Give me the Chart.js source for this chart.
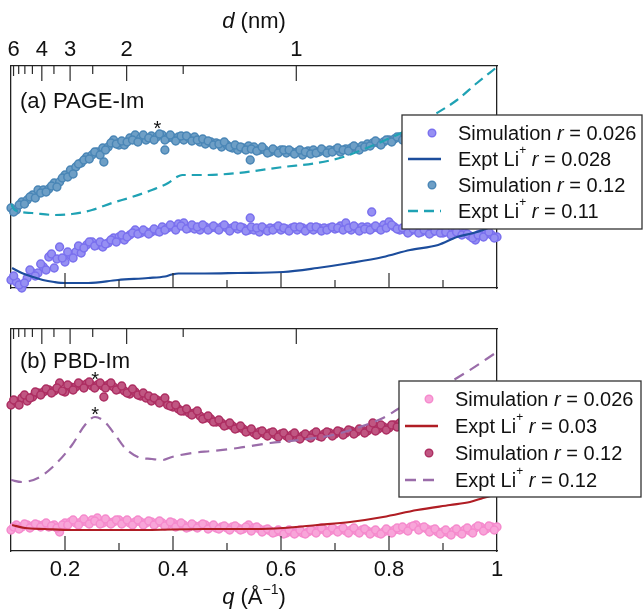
<!DOCTYPE html>
<html><head><meta charset="utf-8">
<script src="https://cdn.jsdelivr.net/npm/chart.js@4.4.1/dist/chart.umd.min.js"></script>
<style>
html,body{margin:0;padding:0;background:#fff;}
#wrap{position:relative;width:643px;height:613px;overflow:hidden;}
canvas{position:absolute;left:0;display:block;}
#c1{top:0}
#c2{top:300px}
</style></head><body>
<div id="wrap"><canvas id="c1" width="643" height="300"></canvas><canvas id="c2" width="643" height="313"></canvas></div>
<script>
// ---------- DATA ----------
// q grid (1/Å) of the simulation curves (two interleaved sample sets)
const qSim = [0.10,0.11,0.12,0.13,0.14,0.15,0.16,0.17,0.18,0.19,
0.20,0.21,0.22,0.23,0.24,0.25,0.26,0.27,0.28,0.29,
0.30,0.31,0.32,0.33,0.34,0.35,0.36,0.37,0.38,0.39,
0.40,0.41,0.42,0.43,0.44,0.45,0.46,0.47,0.48,0.49,
0.50,0.51,0.52,0.53,0.54,0.55,0.56,0.57,0.58,0.59,
0.60,0.61,0.62,0.63,0.64,0.65,0.66,0.67,0.68,0.69,
0.70,0.71,0.72,0.73,0.74,0.75,0.76,0.77,0.78,0.79,
0.80,0.81,0.82,0.83,0.84,0.85,0.86,0.87,0.88,0.89,
0.90,0.91,0.92,0.93,0.94,0.95,0.96,0.97,0.98,0.99,1.00];
const qSimH = [0.105,0.115,0.125,0.135,0.145,0.155,0.165,0.175,0.185,0.195,
0.205,0.215,0.225,0.235,0.245,0.255,0.265,0.275,0.285,0.295,
0.305,0.315,0.325,0.335,0.345,0.355,0.365,0.375,0.385,0.395,
0.405,0.415,0.425,0.435,0.445,0.455,0.465,0.475,0.485,0.495,
0.505,0.515,0.525,0.535,0.545,0.555,0.565,0.575,0.585,0.595,
0.605,0.615,0.625,0.635,0.645,0.655,0.665,0.675,0.685,0.695,
0.705,0.715,0.725,0.735,0.745,0.755,0.765,0.775,0.785,0.795,
0.805,0.815,0.825,0.835,0.845,0.855,0.865,0.875,0.885,0.895,
0.905,0.915,0.925,0.935,0.945,0.955,0.965,0.975,0.985,0.995];

// (a) PAGE-Im, Simulation r = 0.026
const simA026 = [0.8,0.6,0.0,1.0,1.5,1.5,2.1,3.1,2.0,4.1,
2.6,3.3,3.6,3.5,4.3,4.6,4.3,4.1,4.5,5.0,
5.1,4.8,5.3,5.8,5.5,5.6,5.6,5.7,6.1,6.0,
6.1,6.4,6.5,6.0,5.9,5.8,6.1,6.0,6.0,6.1,
6.0,6.0,5.9,6.0,5.8,5.8,5.6,5.9,6.0,6.0,
5.8,5.9,6.0,5.8,6.0,5.9,5.8,6.0,6.0,6.0,
5.9,6.2,6.5,5.8,6.0,6.1,6.1,6.0,6.0,6.3,
6.6,6.1,5.8,5.8,5.7,5.8,5.6,5.7,5.6,5.8,
5.5,5.7,5.4,5.6,5.5,5.2,4.8,5.4,5.5,5.3,5.1];
const simA026h = [1.2,0.3,0.5,1.8,1.2,2.4,1.8,3.4,2.9,3.0,
3.6,3.0,4.2,4.0,4.6,4.2,4.6,4.4,4.8,4.6,
5.3,5.1,5.5,5.4,5.8,5.4,5.9,5.6,5.8,6.3,
5.8,6.2,5.9,6.3,6.1,6.3,5.8,6.2,5.8,6.3,
5.7,6.2,6.1,5.7,6.1,6.0,6.1,5.7,5.8,6.2,
6.0,5.7,6.1,6.1,5.7,6.1,6.1,5.7,5.8,6.1,
6.0,5.8,6.0,6.2,5.7,5.9,5.8,6.2,5.8,6.0,
6.3,5.9,6.0,5.5,5.9,5.5,5.8,5.4,5.7,5.5,
5.6,5.3,5.6,5.3,5.4,5.0,5.3,5.1,5.6,5.0];
const outA026q = [0.543,0.768];
const outA026v = [7.0,7.6];

// (a) PAGE-Im, Simulation r = 0.12
const simA12 = [8.0,7.8,8.6,8.8,9.3,9.8,9.8,9.9,10.5,10.6,
11.3,11.8,12.1,12.5,13.1,13.3,13.6,14.0,14.1,14.8,
14.3,14.3,15.0,15.3,15.0,14.8,15.2,15.1,15.3,15.0,
15.0,15.1,14.8,15.0,15.1,14.6,14.4,14.6,14.5,14.1,
14.3,14.0,13.8,14.0,14.2,14.1,13.8,13.8,13.6,13.7,
13.8,13.5,13.6,13.6,13.3,13.7,13.8,13.6,13.7,13.8,
13.8,13.6,13.9,14.0,14.0,14.2,14.4,14.5,14.5,14.6,
14.8,14.9,15.1,15.2,15.3,15.2,15.4,15.5,15.4,15.6,
15.7,15.6,15.8,15.9,15.8,16.0,16.1,16.0,16.1,16.2,16.2];
const simA12h = [7.6,8.3,8.4,9.1,9.0,9.5,9.6,10.2,10.1,11.0,
11.1,11.4,12.4,12.8,12.9,13.6,13.3,13.8,14.5,14.4,
14.7,14.6,14.8,14.6,15.3,15.0,14.8,15.4,14.8,15.3,
14.7,15.2,15.2,14.7,14.8,14.9,14.7,14.3,14.4,14.6,
14.1,14.3,14.1,13.8,13.9,13.7,14.1,13.5,13.9,13.5,
13.8,13.8,13.4,13.8,13.6,13.4,13.5,13.9,13.5,13.6,
14.0,13.8,13.7,14.2,13.8,14.1,14.2,14.7,14.3,14.8,
14.6,15.1,14.8,15.0,15.3,15.0,15.4,15.2,15.6,15.4,
15.7,15.5,15.9,15.6,16.0,15.8,16.1,15.9,16.2,16.0];
const outA12q = [0.272,0.385,0.543];
const outA12v = [12.6,13.8,12.8];

// (a) Expt Li+ r = 0.028
const qExptA028 = [0.102,0.120,0.141,0.159,0.180,0.200,0.243,0.298,0.354,0.385,0.398,0.410,0.459,0.520,0.604,0.667,0.728,0.789,0.839,0.891,0.926,0.956,0.974,1.000];
const exptA028 = [2.0,1.5,1.1,0.8,0.6,0.5,0.5,0.8,1.0,1.15,1.35,1.45,1.45,1.5,1.6,2.0,2.5,3.1,3.8,4.3,5.1,5.5,5.8,6.4];

// (a) Expt Li+ r = 0.11
const qExptA011 = [0.100,0.107,0.139,0.181,0.213,0.250,0.287,0.324,0.361,0.391,0.407,0.417,0.459,0.520,0.604,0.667,0.715,0.759,0.802,0.826,0.889,0.926,0.963,1.000];
const exptA011 = [8.4,7.8,7.5,7.3,7.4,7.8,8.5,9.1,9.8,10.5,11.1,11.3,11.3,11.5,12.1,12.5,13.1,14.0,15.0,15.6,17.5,18.8,20.5,22.1];

// (b) PBD-Im, Simulation r = 0.026
const simB026 = [2.1,2.6,2.4,2.6,2.5,2.6,2.6,2.4,2.6,1.9,
2.8,2.9,2.8,2.9,2.9,3.1,3.3,2.8,2.9,2.9,
3.1,2.9,2.8,2.9,2.9,2.8,2.9,2.8,2.8,2.6,
2.8,2.6,2.6,2.4,2.5,2.5,2.6,2.4,2.3,2.4,
2.3,2.4,2.3,2.2,2.6,2.3,2.2,2.1,2.0,1.9,
1.9,1.8,1.9,1.9,1.8,1.9,2.0,2.1,2.1,2.0,
2.1,2.1,2.0,2.1,2.0,2.1,2.0,1.9,1.8,1.9,
2.0,2.1,2.1,2.2,2.4,2.6,2.3,2.2,2.1,1.9,
1.9,1.8,2.0,1.9,2.1,2.0,2.3,2.4,2.2,2.4,2.4];
const simB026h = [2.4,2.2,2.7,2.3,2.7,2.4,2.8,2.5,2.3,2.6,
2.6,3.1,2.6,3.2,2.7,3.0,2.7,3.2,2.7,3.1,
2.7,3.1,2.6,3.1,2.6,3.0,2.6,3.0,2.5,2.9,
2.4,2.8,2.3,2.7,2.3,2.7,2.2,2.6,2.2,2.5,
2.1,2.5,2.1,2.4,2.0,2.4,1.9,2.2,1.8,2.1,
1.7,2.1,1.7,2.1,1.7,2.1,1.8,2.3,1.8,2.3,
1.9,2.3,1.8,2.3,1.8,2.2,1.7,2.1,1.7,2.2,
1.8,2.3,2.4,2.0,2.5,2.1,2.4,1.9,2.2,1.7,
2.1,1.6,2.2,1.7,2.3,1.8,2.5,2.0,2.5,2.1];

// (b) PBD-Im, Simulation r = 0.12
const simB12 = [14.6,14.9,15.3,15.0,15.4,15.8,15.9,16.1,16.0,16.8,
15.9,16.4,16.4,16.6,16.7,16.5,16.6,16.5,16.6,16.4,
16.2,16.0,15.7,15.9,15.5,15.3,15.0,15.1,15.0,14.6,
14.4,14.2,14.0,13.8,13.8,13.5,13.3,13.2,12.9,12.8,
12.6,12.5,12.3,12.2,12.0,11.8,11.9,11.7,11.8,11.6,
11.7,11.5,11.6,11.4,11.5,11.5,11.7,11.5,11.7,11.8,
11.7,11.9,11.8,12.0,11.9,12.1,12.0,12.2,12.2,12.4,
12.3,12.6,12.8,13.0,13.1,13.2,13.4,13.5,13.6,13.8,
13.9,14.0,14.1,14.2,14.4,14.5,14.6,14.7,14.8,14.9,15.0];
const simB12h = [15.1,14.6,15.6,15.3,15.9,15.6,16.2,15.8,16.3,16.0,
16.6,16.1,16.8,16.3,16.9,16.3,16.8,16.3,16.8,16.1,
16.5,15.8,16.2,15.6,15.8,15.5,15.3,14.8,15.3,14.5,
14.6,14.0,14.2,13.6,14.0,13.2,13.5,12.9,13.1,12.5,
12.8,12.2,12.5,11.9,12.2,11.6,12.0,11.5,11.9,11.4,
11.8,11.3,11.8,11.2,11.7,11.3,11.9,11.4,11.9,11.5,
12.0,11.6,12.1,11.7,12.2,11.8,12.3,12.0,12.6,12.1,
12.6,12.4,13.0,12.8,13.4,13.0,13.6,13.3,13.9,13.6,
14.1,13.8,14.3,14.0,14.6,14.3,14.8,14.5,15.0,14.7];
const outB12q = [0.272,0.770];
const outB12v = [15.4,12.8];

// (b) Expt Li+ r = 0.03
const qExptB03 = [0.102,0.126,0.163,0.213,0.335,0.459,0.552,0.604,0.667,0.728,0.789,0.852,0.913,0.950,0.974,1.000];
const exptB03 = [2.6,2.3,2.2,2.1,2.1,2.2,2.2,2.3,2.6,2.9,3.4,4.1,4.6,4.9,5.3,5.7];

// (b) Expt Li+ r = 0.12
const qExptB12 = [0.100,0.120,0.150,0.181,0.213,0.237,0.2556,0.274,0.293,0.311,0.335,0.361,0.381,0.398,0.435,0.472,0.520,0.580,0.635,0.696,0.746,0.789,0.820,0.881,0.944,1.000];
const exptB12 = [7.1,6.9,7.3,8.6,10.6,12.6,13.4,12.9,11.6,10.3,9.4,9.2,9.1,9.4,9.8,10.0,10.3,10.8,11.1,11.6,12.4,13.3,14.3,15.9,17.9,19.9];

// axis ticks
const qMajor = [0.2,0.4,0.6,0.8];
const qMinor = [0.3,0.5,0.7,0.9];
const qLabelVals = [0.2,0.4,0.6,0.8,1.0];
const qLabels = ['0.2','0.4','0.6','0.8','1'];
const dMajor = [6,4,3,2,1];       // d (nm), labelled
const dMinor = [5.5,5,4.5,3.5,2.5,1.5];

// peak markers (*)
const starsA = [{q:0.371, v:16.4}];
const starsB = [{q:0.2556, v:17.6},{q:0.2556, v:14.1}];

// ---------- STYLE / HELPERS ----------
const FONT = '"Liberation Sans", Arial, Helvetica, sans-serif';
const C = {
  slate:'#7a70ee', navy:'#1c4d9c', steel:'#4a86b6', teal:'#1fa2b4',
  pink:'#f58acd', red:'#b01d24', maroon:'#ad2e62', purple:'#9a6ca9'
};
const FACE = {
  slate:'#9690f3', steel:'#6e9fc6', pink:'#f8a5d9', maroon:'#c05682'
};
function dToQ(d){ return 2*Math.PI/(10*d); }
function pts(qs, vs){ return qs.map((q,i)=>({x:q, y:vs[i]})); }

function scatterDs(label, data, color, face, order){
  return {label, data, showLine:false, pointRadius:3.9, pointHoverRadius:3.9,
    pointBackgroundColor: face, pointBorderColor: color, pointBorderWidth:1.5,
    legendColor: color, clip:false, order};
}
function lineDs(label, data, color, dash, order){
  return {label, data, showLine:true, pointRadius:0, borderColor:color, borderWidth:2.2,
    borderDash: dash || [], cubicInterpolationMode:'monotone', order};
}

function drawRich(ctx, x, y, parts, size){
  for (const p of parts){
    const fs = p.sup ? Math.round(size*0.62) : size;
    ctx.font = (p.it ? 'italic ' : '') + fs + 'px ' + FONT;
    ctx.fillText(p.t, x, p.sup ? y - size*0.45 : y);
    x += ctx.measureText(p.t).width;
  }
  return x;
}
function richWidth(ctx, parts, size){
  let w = 0;
  for (const p of parts){
    const fs = p.sup ? Math.round(size*0.62) : size;
    ctx.font = (p.it ? 'italic ' : '') + fs + 'px ' + FONT;
    w += ctx.measureText(p.t).width;
  }
  return w;
}

const decor = {
  id:'decor',
  afterDraw(chart){
    const o = chart.options.plugins.decor;
    const ctx = chart.ctx, ca = chart.chartArea;
    const xs = chart.scales.x, xt = chart.scales.x2, ys = chart.scales.y;
    ctx.save();
    // inward tick marks
    ctx.strokeStyle = '#2a2a2a'; ctx.lineWidth = 1.2;
    const tick = (x, y0, len) => { ctx.beginPath(); ctx.moveTo(x, y0); ctx.lineTo(x, y0+len); ctx.stroke(); };
    qMajor.forEach(q => tick(xs.getPixelForValue(q), ca.bottom, -15));
    qMinor.forEach(q => tick(xs.getPixelForValue(q), ca.bottom, -8));
    dMajor.forEach(d => tick(xt.getPixelForValue(dToQ(d)), ca.top, d===6 ? 10 : 15));
    dMinor.forEach(d => tick(xt.getPixelForValue(dToQ(d)), ca.top, 8));
    // panel label
    ctx.fillStyle = '#111'; ctx.textAlign = 'left'; ctx.textBaseline = 'alphabetic';
    ctx.font = '22px ' + FONT;
    ctx.fillText(o.panel, ca.left + 9, ca.top + o.panelDy);
    // asterisks
    ctx.textAlign = 'center';
    ctx.font = '20px ' + FONT;
    o.stars.forEach(s => ctx.fillText('*', xs.getPixelForValue(s.q), ys.getPixelForValue(s.v) + 11));
    // axis titles
    ctx.textAlign = 'left';
    const cx = (ca.left + ca.right)/2;
    if (o.topTitle){
      const parts = [{t:'d', it:true},{t:' (nm)'}];
      const w = richWidth(ctx, parts, 22);
      drawRich(ctx, cx - w/2, o.topTitleY, parts, 22);
    }
    if (o.bottomTitle){
      const parts = [{t:'q', it:true},{t:' (Å'},{t:'\u22121', sup:true},{t:')'}];
      const w = richWidth(ctx, parts, 22);
      drawRich(ctx, cx - w/2, o.bottomTitleY, parts, 22);
    }
    // legend
    const L = o.legend;
    ctx.fillStyle = '#fff';
    ctx.fillRect(L.x, L.y, L.w, L.h);
    ctx.strokeStyle = '#333'; ctx.lineWidth = 1.3;
    ctx.strokeRect(L.x, L.y, L.w, L.h);
    chart.data.datasets.forEach((ds, i) => {
      const yc = L.y + L.first + i*L.step;
      if (ds.showLine){
        ctx.strokeStyle = ds.borderColor; ctx.lineWidth = 2.4;
        ctx.setLineDash(ds.borderDash || []);
        ctx.beginPath(); ctx.moveTo(L.x + 6, yc); ctx.lineTo(L.x + 39, yc); ctx.stroke();
        ctx.setLineDash([]);
      } else {
        ctx.fillStyle = ds.pointBackgroundColor;
        ctx.strokeStyle = ds.pointBorderColor; ctx.lineWidth = 1.4;
        ctx.beginPath(); ctx.arc(L.x + 30, yc, 3.8, 0, Math.PI*2); ctx.fill(); ctx.stroke();
      }
      ctx.fillStyle = '#111'; ctx.textAlign = 'left'; ctx.textBaseline = 'middle';
      drawRich(ctx, L.x + 56, yc + 1, L.texts[i], 20);
    });
    ctx.restore();
  }
};

function makeChart(canvas, datasets, cfg){
  return new Chart(canvas, {
    type:'scatter',
    data:{datasets},
    plugins:[decor],
    options:{
      responsive:false, animation:false, events:[],
      layout:{padding:{left:11, right:146, top:0, bottom:0}},
      plugins:{legend:{display:false}, tooltip:{enabled:false}, decor:cfg.decor},
      scales:{
        x:{type:'linear', position:'bottom', min:0.1, max:1.0,
           afterBuildTicks: s => { s.ticks = qLabelVals.map(v => ({value:v})); },
           afterFit: s => { s.height = cfg.bottomH; },
           grid:{display:false, drawTicks:false},
           border:{display:true, color:'#222', width:1.3},
           ticks:{display:cfg.bottomLabels, autoSkip:false, maxRotation:0, padding:6, color:'#111',
                  font:{family:FONT, size:22},
                  callback:(v) => { const i = qLabelVals.findIndex(t => Math.abs(t-v) < 1e-6); return i >= 0 ? qLabels[i] : ''; }}},
        x2:{type:'linear', axis:'x', position:'top', min:0.1, max:1.0,
           afterBuildTicks: s => { s.ticks = dMajor.map(d => ({value:dToQ(d)})); },
           afterFit: s => { s.height = cfg.topH; },
           grid:{display:false, drawTicks:false},
           border:{display:true, color:'#222', width:1.3},
           ticks:{display:cfg.topLabels, autoSkip:false, maxRotation:0, padding:3, color:'#111',
                  font:{family:FONT, size:22},
                  callback:(v) => { const i = dMajor.findIndex(d => Math.abs(dToQ(d)-v) < 1e-6); return i >= 0 ? String(dMajor[i]) : ''; }}},
        y:{type:'linear', position:'left', min:0, max:22.2,
           afterFit: s => { s.width = 0; },
           grid:{display:false, drawTicks:false}, ticks:{display:false},
           border:{display:true, color:'#222', width:1.3}},
        y2:{type:'linear', axis:'y', position:'right', min:0, max:22.2,
           afterFit: s => { s.width = 0; },
           grid:{display:false, drawTicks:false}, ticks:{display:false},
           border:{display:true, color:'#222', width:1.3}}
      }
    }
  });
}

const legA = [
  [{t:'Simulation '},{t:'r', it:true},{t:' = 0.026'}],
  [{t:'Expt Li'},{t:'+', sup:true},{t:' '},{t:'r', it:true},{t:' = 0.028'}],
  [{t:'Simulation '},{t:'r', it:true},{t:' = 0.12'}],
  [{t:'Expt Li'},{t:'+', sup:true},{t:' '},{t:'r', it:true},{t:' = 0.11'}]
];
const legB = [
  [{t:'Simulation '},{t:'r', it:true},{t:' = 0.026'}],
  [{t:'Expt Li'},{t:'+', sup:true},{t:' '},{t:'r', it:true},{t:' = 0.03'}],
  [{t:'Simulation '},{t:'r', it:true},{t:' = 0.12'}],
  [{t:'Expt Li'},{t:'+', sup:true},{t:' '},{t:'r', it:true},{t:' = 0.12'}]
];

makeChart(document.getElementById('c1'), [
  scatterDs('Simulation r = 0.026', pts(qSim, simA026).concat(pts(qSimH, simA026h), pts(outA026q, outA026v)), C.slate, FACE.slate, 4),
  lineDs('Expt Li+ r = 0.028', pts(qExptA028, exptA028), C.navy, null, 3),
  scatterDs('Simulation r = 0.12', pts(qSim, simA12).concat(pts(qSimH, simA12h), pts(outA12q, outA12v)), C.steel, FACE.steel, 2),
  lineDs('Expt Li+ r = 0.11', pts(qExptA011, exptA011), C.teal, [10,6], 1)
], {topH:66, bottomH:12, topLabels:true, bottomLabels:false,
    decor:{panel:'(a) PAGE-Im', panelDy:42, stars:starsA, topTitle:true, topTitleY:28, bottomTitle:false,
           legend:{x:402, y:115, w:240, h:114, first:18, step:26, texts:legA}}});

makeChart(document.getElementById('c2'), [
  scatterDs('Simulation r = 0.026', pts(qSim, simB026).concat(pts(qSimH, simB026h)), C.pink, FACE.pink, 4),
  lineDs('Expt Li+ r = 0.03', pts(qExptB03, exptB03), C.red, null, 3),
  scatterDs('Simulation r = 0.12', pts(qSim, simB12).concat(pts(qSimH, simB12h), pts(outB12q, outB12v)), C.maroon, FACE.maroon, 2),
  lineDs('Expt Li+ r = 0.12', pts(qExptB12, exptB12), C.purple, [11,7], 1)
], {topH:29, bottomH:62, topLabels:false, bottomLabels:true,
    decor:{panel:'(b) PBD-Im', panelDy:39, stars:starsB, topTitle:false, bottomTitle:true, bottomTitleY:304,
           legend:{x:399, y:81, w:242, h:116, first:18, step:27, texts:legB}}});
</script>
</body></html>
